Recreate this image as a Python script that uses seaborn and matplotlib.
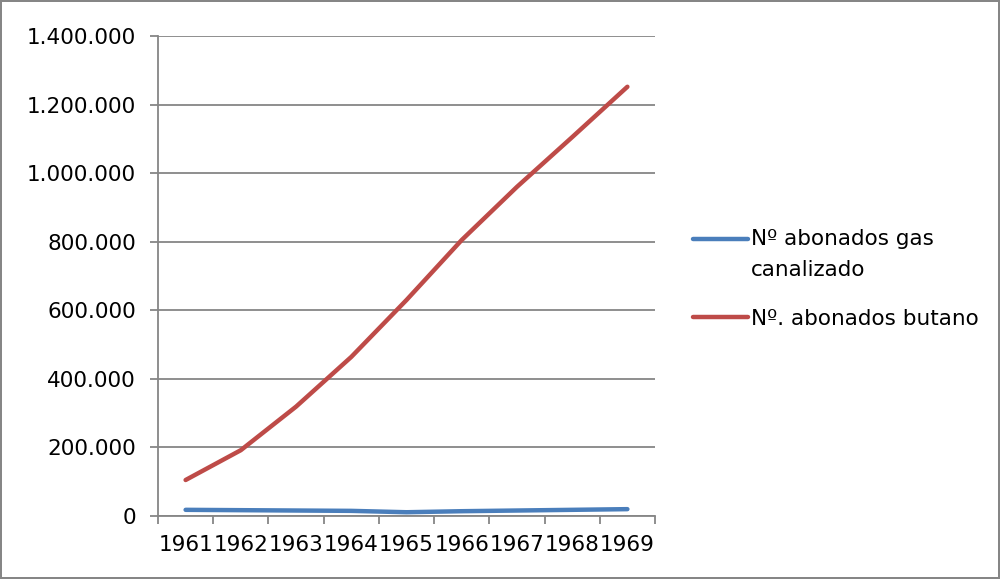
import numpy as np
import pandas as pd
import matplotlib
matplotlib.use("Agg")
import matplotlib.pyplot as plt
from matplotlib.ticker import FuncFormatter, FixedLocator
import seaborn as sns

# Datos
anios = ["1961", "1962", "1963", "1964", "1965", "1966", "1967", "1968", "1969"]
gas_canalizado = [18000, 17000, 16000, 15000, 11000, 14000, 16000, 18000, 20000]
butano = [105000, 192000, 319000, 464000, 630000, 805000, 960000, 1105000, 1252000]
series = ["Nº abonados gas\ncanalizado", "Nº. abonados butano"]
colores = ["#4A7EBB", "#BE4B48"]

df = pd.DataFrame({
    "pos": list(range(len(anios))) * 2,
    "valor": gas_canalizado + butano,
    "serie": [series[0]] * len(anios) + [series[1]] * len(anios),
})

sns.set_style("white")
plt.rcParams["font.family"] = ["DejaVu Sans"]
plt.rcParams["text.color"] = "black"
gris = "#868686"

fig = plt.figure(figsize=(10, 5.79), dpi=100)
fig.patch.set_edgecolor(gris)
fig.patch.set_linewidth(1.5)
ax = fig.add_axes([0.158, 0.1088, 0.497, 0.829])

sns.lineplot(data=df, x="pos", y="valor", hue="serie", palette=colores,
             linewidth=3.2, ax=ax, legend=True)
for l in ax.get_lines():
    l.set_solid_capstyle("round")

ax.set_xlim(-0.5, len(anios) - 0.5)
ax.set_ylim(0, 1400000)
ax.set_yticks(np.arange(0, 1400001, 200000))
ax.yaxis.set_major_formatter(FuncFormatter(lambda v, p: f"{int(v):,}".replace(",", ".")))
ax.yaxis.grid(True, color=gris, linewidth=1.3)
ax.set_axisbelow(True)

# ticks del eje x en los bordes de categoría, etiquetas centradas
ax.xaxis.set_major_locator(FixedLocator(np.arange(-0.5, len(anios), 1.0)))
ax.xaxis.set_major_formatter(FuncFormatter(lambda v, p: ""))
ax.xaxis.set_minor_locator(FixedLocator(np.arange(len(anios))))
ax.set_xticklabels(anios, minor=True)
ax.tick_params(axis="x", which="major", length=6, color=gris, width=1.3, direction="out", bottom=True)
ax.tick_params(axis="x", which="minor", length=0, pad=14, labelsize=15.5, labelcolor="black")
ax.tick_params(axis="y", length=6, color=gris, width=1.3, direction="out", left=True,
               labelsize=15.5, pad=10, labelcolor="black")
ax.set_xlabel("")
ax.set_ylabel("")

for side in ["top", "right"]:
    ax.spines[side].set_visible(False)
for side in ["left", "bottom"]:
    ax.spines[side].set_color(gris)
    ax.spines[side].set_linewidth(1.3)

handles, labels = ax.get_legend_handles_labels()
ax.get_legend().remove()
leg = fig.legend(handles, labels, loc="upper left", bbox_to_anchor=(0.693, 0.605),
                 frameon=False, fontsize=15.5, handlelength=2.55, handletextpad=0.15,
                 labelspacing=1.35, borderpad=0, borderaxespad=0)
for t in leg.get_texts():
    t.set_linespacing(1.7)
    t.set_color("black")
for h in leg.legend_handles:
    h.set_linewidth(3.2)
leg.legend_handles[0].set_ydata(np.asarray(leg.legend_handles[0].get_ydata()) + 11.5)

fig.savefig("out.png", dpi=100, edgecolor=fig.get_edgecolor())
